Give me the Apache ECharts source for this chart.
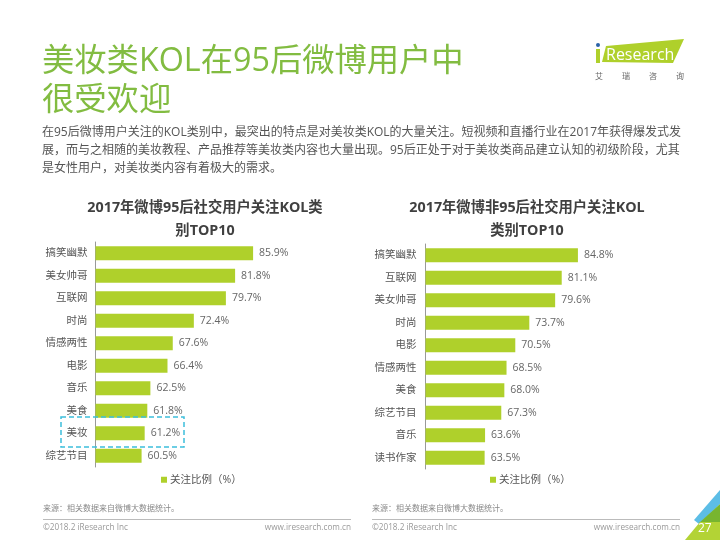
<!DOCTYPE html>
<html>
<head>
<meta charset="utf-8">
<style>html,body{margin:0;padding:0;background:#fff}#main{width:720px;height:540px}</style>
<script src="https://cdn.jsdelivr.net/npm/echarts@6/dist/echarts.min.js"></script>
</head>
<body>
<div id="main"></div>
<script>
var catsA = ['搞笑幽默', '美女帅哥', '互联网', '时尚', '情感两性', '电影', '音乐', '美食', '美妆', '综艺节目'];
var valsA = [85.9, 81.8, 79.7, 72.4, 67.6, 66.4, 62.5, 61.8, 61.2, 60.5];
var catsB = ['搞笑幽默', '互联网', '美女帅哥', '时尚', '电影', '情感两性', '美食', '综艺节目', '音乐', '读书作家'];
var valsB = [84.8, 81.1, 79.6, 73.7, 70.5, 68.5, 68.0, 67.3, 63.6, 63.5];
var seriesName = '关注比例（%）';
var titleA = '2017年微博95后社交用户关注KOL类\n别TOP10';
var titleB = '2017年微博非95后社交用户关注KOL\n类别TOP10';
var bodyLines = [
  '在95后微博用户关注的KOL类别中，最突出的特点是对美妆类KOL的大量关注。短视频和直播行业在2017年获得爆发式发',
  '展，而与之相随的美妆教程、产品推荐等美妆类内容也大量出现。95后正处于对于美妆类商品建立认知的初级阶段，尤其',
  '是女性用户，对美妆类内容有着极大的需求。'
];

var font = '"Open Sans","Noto Sans CJK SC",sans-serif';
var green = '#afd02b';
var myChart = echarts.init(document.getElementById('main'));

function txt(x, y, text, size, color, extra) {
  var style = {x: x, y: y, text: text, fontSize: size, fontFamily: font, fill: color, textVerticalAlign: 'middle'};
  for (var k in extra) style[k] = extra[k];
  return {type: 'text', style: style, silent: true};
}
function poly(points, color) {
  return {type: 'polygon', shape: {points: points}, style: {fill: color}, silent: true};
}
function line(x1, x2, y) {
  return {type: 'line', shape: {x1: x1, y1: y, x2: x2, y2: y}, style: {stroke: '#bbbbbb', lineWidth: 1}, silent: true};
}

var graphics = [
  txt(42, 62, '美妆类KOL在95后微博用户中', 32.3, '#82bc41'),
  txt(42, 100.5, '很受欢迎', 32.3, '#82bc41'),
  txt(42, 132.5, bodyLines[0], 12, '#555555'),
  txt(42, 150.5, bodyLines[1], 12, '#555555'),
  txt(42, 168.5, bodyLines[2], 12, '#555555'),

  // logo
  poly([[606, 46], [684, 39], [673, 63], [602, 62]], green),
  {type: 'circle', shape: {cx: 598, cy: 45, r: 2}, style: {fill: '#2a62a8'}, silent: true},
  poly([[596, 49], [600, 49], [600, 63], [596, 63]], green),
  txt(606, 55, 'Research', 16, '#ffffff'),
  txt(595, 77, '艾', 8, '#666666'),
  txt(622, 77, '瑞', 8, '#666666'),
  txt(649, 77, '咨', 8, '#666666'),
  txt(676, 77, '询', 8, '#666666'),

  // highlight round 美妆
  {type: 'rect', shape: {x: 61, y: 417, width: 123, height: 30},
    style: {fill: 'none', stroke: '#3cbfdc', lineWidth: 1.5, lineDash: [5, 3]}, silent: true, z: 10},

  // footer
  txt(43, 509, '来源：相关数据来自微博大数据统计。', 8, '#888888'),
  txt(372, 509, '来源：相关数据来自微博大数据统计。', 8, '#888888'),
  line(43, 351, 519.5),
  line(372, 680, 519.5),
  txt(43, 528, '©2018.2 iResearch Inc', 8.2, '#999999'),
  txt(372, 528, '©2018.2 iResearch Inc', 8.2, '#999999'),
  txt(351, 528, 'www.iresearch.com.cn', 8.2, '#999999', {textAlign: 'right'}),
  txt(680, 528, 'www.iresearch.com.cn', 8.2, '#999999', {textAlign: 'right'}),

  // corner
  poly([[720, 490], [720, 504], [699, 524], [694, 520]], '#5cbde6'),
  poly([[720, 504], [720, 523], [699, 523]], '#78b52f'),
  poly([[700, 522], [720, 522], [720, 540], [685, 540]], '#b3d335'),
  txt(698, 529, '27', 12, '#ffffff')
];

function axisY(cats, gridIndex, margin) {
  return {
    type: 'category', gridIndex: gridIndex, data: cats, inverse: true,
    axisLine: {lineStyle: {color: '#999999'}},
    axisTick: {show: false},
    axisLabel: {color: '#555555', fontSize: 10.5, fontFamily: font, margin: margin, interval: 0}
  };
}
function axisX(gridIndex) {
  return {type: 'value', gridIndex: gridIndex, min: 50, max: 100, show: false, splitLine: {show: false}};
}
function barSeries(vals, index) {
  return {
    name: seriesName, type: 'bar', xAxisIndex: index, yAxisIndex: index,
    data: vals, barWidth: 14, itemStyle: {color: green},
    label: {
      show: true, position: 'right', distance: 6, color: '#666666',
      fontSize: 10.5, fontFamily: font,
      formatter: function (p) { return p.value.toFixed(1) + '%'; }
    }
  };
}
function titleOpt(text, cx) {
  return {
    text: text, left: cx, top: 191, textAlign: 'center',
    textStyle: {fontSize: 14.3, fontWeight: 'bold', color: '#404040', lineHeight: 23.5, fontFamily: font}
  };
}
function legendOpt(left) {
  return {
    data: [seriesName], left: left, top: 469.5, itemWidth: 6, itemHeight: 6, itemGap: 3,
    icon: 'rect', selectedMode: false,
    textStyle: {fontSize: 10.5, color: '#555555', fontFamily: font, padding: [0, 0, 0, -2]}
  };
}

option = {
  animation: false,
  title: [titleOpt(titleA, 200), titleOpt(titleB, 522)],
  legend: [legendOpt(156), legendOpt(485)],
  grid: [
    {left: 95.5, top: 242, width: 219.5, height: 225},
    {left: 425.5, top: 244, width: 219, height: 225}
  ],
  xAxis: [axisX(0), axisX(1)],
  yAxis: [axisY(catsA, 0, 8), axisY(catsB, 1, 9)],
  series: [barSeries(valsA, 0), barSeries(valsB, 1)],
  graphic: graphics
};

myChart.setOption(option);

window.addEventListener('resize', function () {
  myChart.resize();
});
</script>
</body>
</html>
